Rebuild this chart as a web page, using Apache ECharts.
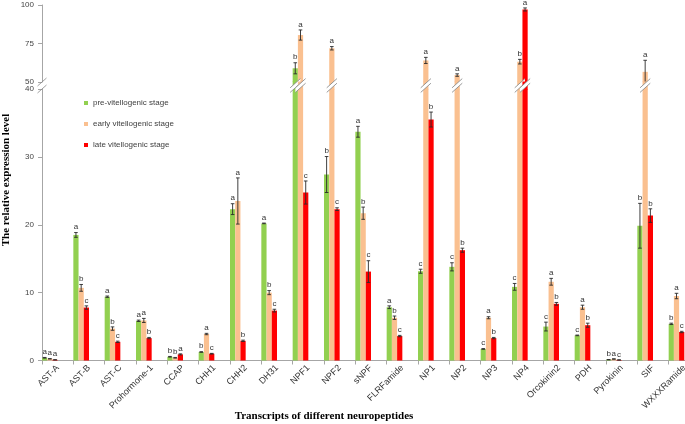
<!DOCTYPE html>
<html><head><meta charset="utf-8">
<script src="https://cdn.jsdelivr.net/npm/echarts@6/dist/echarts.min.js"></script>
<style>html,body{margin:0;padding:0;background:#fff;}#c{width:685px;height:424px;}</style>
</head><body><div id="c"></div>
<script>
const categories = ['AST-A','AST-B','AST-C','Prohormone-1','CCAP','CHH1','CHH2','DH31','NPF1','NPF2','sNPF','FLRFamide','NP1','NP2','NP3','NP4','Orcokinin2','PDH','Pyrokinin','SIF','WXXXRamide'];
const stageNames = ['pre-vitellogenic stage','early vitellogenic stage','late vitellogenic stage'];

const preVals   = [0.4, 18.5, 9.4, 5.85, 0.55, 1.25, 22.3, 20.2, 58.9, 27.4, 33.7, 7.85, 13.15, 13.8, 1.7, 10.85, 5.0, 3.7, 0.12, 19.85, 5.4];
const earlyVals = [0.25, 10.7, 4.7, 5.9, 0.4, 3.9, 23.5, 10.0, 80.5, 71.9, 21.7, 6.3, 64.0, 54.5, 6.3, 63.2, 11.6, 7.85, 0.22, 56.6, 9.5];
const lateVals  = [0.1, 7.8, 2.75, 3.3, 0.9, 1.0, 2.9, 7.35, 24.75, 22.3, 13.1, 3.6, 35.5, 16.25, 3.3, 97.1, 8.35, 5.2, 0.08, 21.35, 4.2];

const preErr   = [0.05, 0.35, 0.1, 0.1, 0.05, 0.05, 0.8, 0.05, 3.6, 2.65, 0.8, 0.2, 0.3, 0.6, 0.05, 0.5, 0.65, 0.05, 0.02, 3.3, 0.1];
const earlyErr = [0.03, 0.5, 0.25, 0.3, 0.05, 0.1, 3.4, 0.3, 3.3, 1.1, 0.9, 0.25, 2.0, 0.8, 0.15, 1.5, 0.5, 0.3, 0.03, 7.5, 0.4];
const lateErr  = [0.02, 0.25, 0.1, 0.1, 0.08, 0.05, 0.1, 0.2, 1.7, 0.2, 1.6, 0.1, 1.1, 0.3, 0.1, 1.0, 0.2, 0.3, 0.02, 1.0, 0.1];

const preSig   = ['a','a','a','a','b','b','a','a','b','b','a','a','c','c','c','c','c','c','b','b','b'];
const earlySig = ['a','b','b','a','b','a','a','b','a','a','b','b','a','a','a','b','a','a','a','a','a'];
const lateSig  = ['a','c','c','b','a','c','b','c','c','c','c','c','b','b','b','a','b','b','c','b','c'];

const lowTicks = {min: 0, max: 40, interval: 10};
const highTicks = {min: 50, max: 100, interval: 25};

const COLORS = ['#92D050', '#FAC090', '#FF0000'];
const GL = 42, GR = -15;
const TOP_T = 5, TOP_H = 77;
const BOT_T = 89, BOT_B = 63.5;
const GAP = BOT_T - (TOP_T + TOP_H);
const FONT = '"Liberation Sans", Arial, sans-serif';

const vals = [preVals, earlyVals, lateVals];
const errs = [preErr, earlyErr, lateErr];
const sigs = [preSig, earlySig, lateSig];

function barSeries(k, g) {
  return {
    type: 'bar', name: stageNames[k], xAxisIndex: g, yAxisIndex: g,
    data: vals[k].map(v => g === 0 ? (v > highTicks.min ? v : '-') : v),
    itemStyle: {color: COLORS[k]}, barGap: '0%', barCategoryGap: '0%',
    silent: true, clip: true
  };
}
function padSeries(n, g) {
  return {type: 'bar', name: 'pad' + g + '_' + n, xAxisIndex: g, yAxisIndex: g,
    data: categories.map(() => '-'), barGap: '0%', barCategoryGap: '0%', silent: true};
}
function errSeries(k, g) {
  const data = [];
  vals[k].forEach((v, i) => {
    const inTop = v > highTicks.min;
    if ((g === 0) === inTop) data.push([i, v, errs[k][i], i]);
  });
  return {
    type: 'custom', xAxisIndex: g, yAxisIndex: g, z: 5, silent: true, data,
    renderItem(params, api) {
      const i = api.value(0), v = api.value(1), e = api.value(2), idx = api.value(3);
      const c = api.coord([i, v]);
      const bw = api.size([1, 0])[0];
      const cx = c[0] - bw / 2 + (k + 0.5) * bw / 6;
      const base = g === 0 ? highTicks.min : 0;
      const lo = Math.max(v - e, base);
      const yTop = api.coord([i, v + e])[1];
      const yBot = api.coord([i, lo])[1];
      const cap = 1.8;
      const st = {stroke: '#2a2a2a', lineWidth: 0.9};
      const ch = [
        {type: 'line', shape: {x1: cx, y1: yTop, x2: cx, y2: yBot}, style: st},
        {type: 'line', shape: {x1: cx - cap, y1: yTop, x2: cx + cap, y2: yTop}, style: st}
      ];
      if (v - e > base) ch.push({type: 'line', shape: {x1: cx - cap, y1: yBot, x2: cx + cap, y2: yBot}, style: st});
      ch.push({type: 'text', style: {text: sigs[k][idx], x: cx, y: yTop - 1.5, align: 'center',
        verticalAlign: 'bottom', fontSize: 8, fontFamily: FONT, fill: '#333'}});
      return {type: 'group', children: ch};
    }
  };
}
const breakData = [];
vals.forEach((arr, k) => arr.forEach((v, i) => { if (v > lowTicks.max) breakData.push([i, k]); }));
const breakSeries = {
  type: 'custom', xAxisIndex: 1, yAxisIndex: 1, z: 6, silent: true, data: breakData,
  renderItem(params, api) {
    const i = api.value(0), k = api.value(1);
    const c = api.coord([i, lowTicks.max]);
    const bw = api.size([1, 0])[0], w = bw / 6;
    const cx = c[0] - bw / 2 + (k + 0.5) * w;
    const y0 = c[1], ym = y0 - GAP / 2;
    const hw = w / 2 + 2.5, dy = hw * 0.9, th = 2.3;
    const ls = {stroke: '#808080', lineWidth: 0.8};
    return {type: 'group', children: [
      {type: 'rect', shape: {x: cx - w / 2, y: y0 - GAP - 0.5, width: w, height: GAP + 1}, style: {fill: COLORS[k]}},
      {type: 'polygon', shape: {points: [[cx - hw, ym + dy + th], [cx + hw, ym - dy + th], [cx + hw, ym - dy - th], [cx - hw, ym + dy - th]]}, style: {fill: '#fff'}},
      {type: 'line', shape: {x1: cx - hw, y1: ym + dy + th, x2: cx + hw, y2: ym - dy + th}, style: ls},
      {type: 'line', shape: {x1: cx - hw, y1: ym + dy - th, x2: cx + hw, y2: ym - dy - th}, style: ls}
    ]};
  }
};

const axisCol = '#a6a6a6';
function yAxisOf(g, t) {
  return {gridIndex: g, type: 'value', min: t.min, max: t.max, interval: t.interval,
    splitLine: {show: false},
    axisLine: {show: true, lineStyle: {color: axisCol}},
    axisTick: {show: true, length: 4, lineStyle: {color: axisCol}},
    axisLabel: {fontSize: 8, color: '#444', margin: 8, fontFamily: FONT}};
}

const series = [];
[0, 1].forEach(g => {
  for (let k = 0; k < 3; k++) series.push(barSeries(k, g));
  for (let n = 0; n < 3; n++) series.push(padSeries(n, g));
});
[0, 1].forEach(g => { for (let k = 0; k < 3; k++) series.push(errSeries(k, g)); });
series.push(breakSeries);

const chart = echarts.init(document.getElementById('c'), null, {renderer: 'canvas'});
chart.setOption({
  animation: false,
  backgroundColor: '#fff',
  grid: [
    {left: GL, right: GR, top: TOP_T, height: TOP_H, outerBoundsMode: 'none', containLabel: false},
    {left: GL, right: GR, top: BOT_T, bottom: BOT_B, outerBoundsMode: 'none', containLabel: false}
  ],
  xAxis: [
    {gridIndex: 0, type: 'category', data: categories, show: false},
    {gridIndex: 1, type: 'category', data: categories,
      axisLine: {show: true, lineStyle: {color: axisCol}},
      axisTick: {show: true, length: 4, lineStyle: {color: axisCol}},
      axisLabel: {rotate: 45, interval: 0, fontSize: 9, color: '#333', margin: 6, fontFamily: FONT}}
  ],
  yAxis: [yAxisOf(0, highTicks), yAxisOf(1, lowTicks)],
  legend: {data: stageNames, orient: 'vertical', left: 79, top: 93, itemWidth: 4, itemHeight: 4,
    itemGap: 11, icon: 'rect', selectedMode: false,
    textStyle: {fontSize: 8, color: '#404040', fontFamily: FONT, lineHeight: 10}},
  series
});

const y50 = chart.convertToPixel({yAxisIndex: 0}, highTicks.min);
const y40 = chart.convertToPixel({yAxisIndex: 1}, lowTicks.max);
const sl = {stroke: '#888', lineWidth: 0.8};
chart.setOption({
  graphic: [
    {type: 'line', shape: {x1: GL - 4.5, y1: y50 + 4, x2: GL + 4.5, y2: y50 - 4}, style: sl, z: 10},
    {type: 'line', shape: {x1: GL - 4.5, y1: y40 + 4, x2: GL + 4.5, y2: y40 - 4}, style: sl, z: 10},
    {type: 'text', x: 6.5, y: 180, rotation: Math.PI / 2,
      style: {text: 'The relative expression level', align: 'center', verticalAlign: 'middle',
        font: 'bold 11px "Liberation Serif", "Times New Roman", serif', fill: '#000'}},
    {type: 'text', x: 324, y: 416.5,
      style: {text: 'Transcripts of different neuropeptides', align: 'center', verticalAlign: 'middle',
        font: 'bold 11px "Liberation Serif", "Times New Roman", serif', fill: '#000'}}
  ]
});
</script></body></html>
